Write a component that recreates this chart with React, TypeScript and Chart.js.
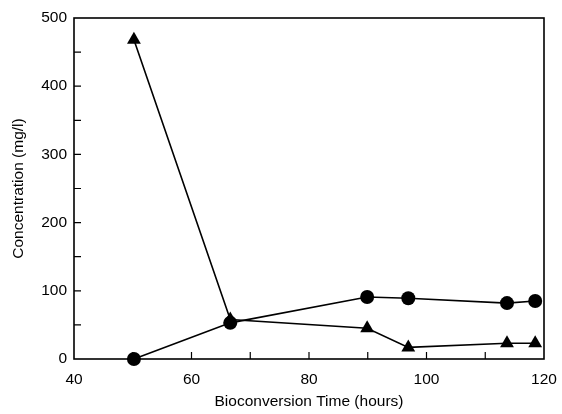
import React, { useEffect, useRef } from "react";
import { Chart, registerables } from "chart.js";

Chart.register(...registerables);

const circleTimes = [50.2, 66.6, 89.9, 96.9, 113.7, 118.5];
const circleValues = [0, 53, 91, 89, 82, 85];
const triangleTimes = [50.2, 66.6, 89.9, 96.9, 113.7, 118.5];
const triangleValues = [468, 58, 45, 17, 23, 23];
const xTickMarks = [50, 60, 70, 80, 90, 100, 110];
const yTickMarks = [50, 100, 150, 200, 250, 300, 350, 400, 450];

const xTitle = "Bioconversion Time (hours)";
const yTitle = "Concentration (mg/l)";

const framePlugin = {
  id: "frameTicks",
  beforeDatasetsDraw(chart: any) {
    const { ctx, chartArea } = chart;
    const xs = chart.scales.x;
    const ys = chart.scales.y;
    ctx.save();
    ctx.strokeStyle = "#000";
    ctx.lineWidth = 1.2;
    ctx.beginPath();
    for (const v of xTickMarks) {
      const px = xs.getPixelForValue(v);
      ctx.moveTo(px, chartArea.bottom);
      ctx.lineTo(px, chartArea.bottom - 7);
    }
    for (const v of yTickMarks) {
      const py = ys.getPixelForValue(v);
      ctx.moveTo(chartArea.left, py);
      ctx.lineTo(chartArea.left + 7, py);
    }
    ctx.stroke();
    ctx.lineWidth = 1.6;
    ctx.strokeRect(chartArea.left, chartArea.top, chartArea.right - chartArea.left, chartArea.bottom - chartArea.top);
    ctx.restore();
  },
};

export default function App() {
  const ref = useRef<HTMLCanvasElement>(null);
  useEffect(() => {
    if (!ref.current) return;
    const font = { family: "'Liberation Sans', Arial, sans-serif", size: 15.5 };
    const chart = new Chart(ref.current, {
      type: "scatter",
      data: {
        datasets: [
          {
            label: "circles",
            data: circleTimes.map((t, i) => ({ x: t, y: circleValues[i] })),
            showLine: true,
            borderColor: "#000",
            backgroundColor: "#000",
            borderWidth: 1.6,
            pointStyle: "circle",
            pointRadius: 7,
            pointBorderWidth: 0,
            clip: false,
          },
          {
            label: "triangles",
            data: triangleTimes.map((t, i) => ({ x: t, y: triangleValues[i] })),
            showLine: true,
            borderColor: "#000",
            backgroundColor: "#000",
            borderWidth: 1.6,
            pointStyle: "triangle",
            pointRadius: 8,
            pointBorderWidth: 0,
            clip: false,
          },
        ],
      },
      options: {
        responsive: false,
        animation: false,
        layout: { padding: { top: 18, right: 18, left: 0, bottom: 0 } },
        plugins: { legend: { display: false }, tooltip: { enabled: false } },
        scales: {
          x: {
            type: "linear",
            min: 40,
            max: 120,
            ticks: { stepSize: 20, color: "#000", font, padding: 11, maxRotation: 0 },
            grid: { drawOnChartArea: false, drawTicks: false },
            border: { display: false },
            title: { display: true, text: xTitle, color: "#000", font, padding: { top: 0, bottom: 3 } },
            afterFit: (s: any) => { s.height = 55; s.paddingRight = 0; s.paddingLeft = 0; },
          },
          y: {
            type: "linear",
            min: 0,
            max: 500,
            ticks: { stepSize: 100, color: "#000", font, padding: 7 },
            grid: { drawOnChartArea: false, drawTicks: false },
            border: { display: false },
            title: { display: true, text: yTitle, color: "#000", font, padding: { top: 9, bottom: 0 } },
            afterFit: (s: any) => { s.width = 74; s.paddingTop = 0; s.paddingBottom = 0; },
          },
        },
      },
      plugins: [framePlugin],
    });
    return () => chart.destroy();
  }, []);
  return (
    <div style={{ position: "absolute", left: 0, top: 0, width: 562, height: 414, background: "#fff" }}>
      <canvas ref={ref} width={562} height={414} style={{ display: "block" }} />
    </div>
  );
}
